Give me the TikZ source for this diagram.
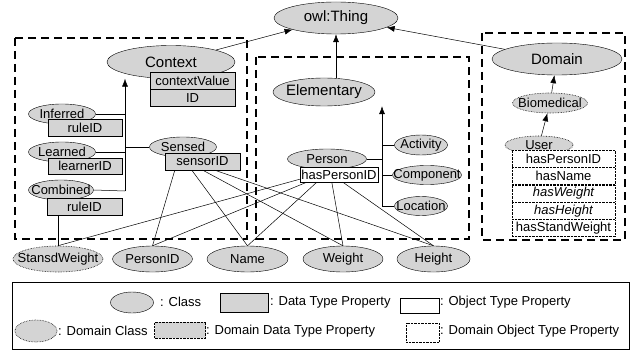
\documentclass[tikz,border=0pt]{standalone}
\usepackage{fontspec}
\setmainfont{Liberation Sans}
\usetikzlibrary{positioning,shapes.geometric,arrows.meta}
\definecolor{stipple}{gray}{0.83}

\begin{document}
\begin{tikzpicture}[x=1pt, y=-1pt,
    every node/.style={font=\fontsize{13}{15}\selectfont, inner sep=0pt},
    cls/.style={ellipse, draw, fill=stipple, inner xsep=-14pt, inner ysep=-6pt},
    bigcls/.style={cls, font=\fontsize{15}{17}\selectfont},
    dcls/.style={cls, densely dotted, line width=0.6pt},
    dprop/.style={rectangle, draw, fill=stipple, minimum height=17pt},
    oprop/.style={rectangle, draw, fill=white, minimum height=15pt},
    doprop/.style={rectangle, draw, densely dotted, fill=white, minimum width=103pt, minimum height=17pt},
    region/.style={draw, line width=1.6pt, dash pattern=on 8pt off 5pt},
    link/.style={line width=0.5pt},
    isa/.style={link, -{Latex[length=8pt, width=6pt]}}]
    \useasboundingbox (0,0) rectangle (634,350);

    \node[bigcls, minimum width=124pt, minimum height=32pt] (thing) at (336,18) {owl:Thing};

    % Context part
    \draw[region] (15,38) rectangle (247,239);
    \node[bigcls, minimum width=128pt, minimum height=33pt] (context) at (171,62) {Context};
    \node[dprop, minimum width=85pt] (ctxvalue) at (192.5,80.5) {contextValue};
    \node[dprop, minimum width=85pt, below=0pt of ctxvalue] (ctxid) {ID};
    \node[cls, minimum width=67pt, minimum height=20pt] (inferred) at (62,114) {Inferred};
    \node[dprop, minimum width=74pt] (infrule) at (85,127.5) {ruleID};
    \node[cls, minimum width=67pt, minimum height=20pt] (learned) at (62,152) {Learned};
    \node[dprop, minimum width=74pt, minimum height=16pt] (learnerid) at (85,166) {learnerID};
    \node[cls, minimum width=65pt, minimum height=20pt] (combined) at (61,190) {Combined};
    \node[dprop, minimum width=75pt] (combrule) at (84.5,206.5) {ruleID};
    \node[cls, minimum width=67pt, minimum height=20pt] (sensed) at (183,147) {Sensed};
    \node[dprop, minimum width=75pt] (sensorid) at (202.5,161.5) {sensorID};

    \coordinate (ctxbar) at (125,191);
    \draw[isa] (ctxbar) -- (ctxbar |- context.south);
    \draw[link] (inferred.east) -- (inferred.east -| ctxbar);
    \draw[link] (learned.east) -- (learned.east -| ctxbar);
    \draw[link] (combined.east) -- (ctxbar);
    \draw[link] (sensed.west) -- (sensed.west -| ctxbar);

    % Elementary part
    \draw[region] (256,57) rectangle (469,239);
    \node[bigcls, minimum width=102pt, minimum height=28pt] (elementary) at (324,92) {Elementary};
    \node[cls, minimum width=53pt, minimum height=20pt] (activity) at (421,145) {Activity};
    \node[cls, minimum width=69pt, minimum height=19pt] (component) at (427,175) {Component};
    \node[cls, minimum width=53pt, minimum height=19pt] (location) at (421,206) {Location};
    \node[cls, minimum width=79pt, minimum height=20pt] (person) at (327,159) {Person};
    \node[oprop, minimum width=78pt] (haspid) at (339,174.5) {hasPersonID};

    \coordinate (elbar) at (382,206);
    \draw[isa] (elbar) -- (elbar |- elementary.south);
    \draw[link] (activity.west) -- (activity.west -| elbar);
    \draw[link] (component.west) -- (component.west -| elbar);
    \draw[link] (location.west) -- (elbar);
    \draw[link] (person.east) -- (person.east -| elbar);

    % Domain part
    \draw[region] (482,33) rectangle (625,240);
    \node[bigcls, minimum width=130pt, minimum height=32pt] (domain) at (557,59) {Domain};
    \node[dcls, minimum width=75pt, minimum height=20pt] (biomedical) at (550,103) {Biomedical};
    \node[dcls, minimum width=68pt, minimum height=18pt] (user) at (539,145) {User};
    \node[doprop] (dpid) at (563.5,158.5) {hasPersonID};
    \node[doprop, below=0pt of dpid] (dname) {hasName};
    \node[doprop, below=0pt of dname] (dweight) {\itshape hasWeight};
    \node[doprop, below=0pt of dweight] (dheight) {\itshape hasHeight};
    \node[doprop, below=0pt of dheight] (dstand) {hasStandWeight};
    \draw[isa] (biomedical) -- (domain);
    \draw[isa] (user) -- (biomedical);

    % Subclass of owl:Thing
    \draw[isa] (context) -- (thing);
    \draw[isa] (elementary.north -| thing.south) -- (thing.south);
    \draw[isa] (domain) -- (thing);

    % Shared data values
    \node[dcls, minimum width=90pt, minimum height=26pt] (standw) at (58,259) {StansdWeight};
    \node[cls, minimum width=80pt, minimum height=26pt] (personid) at (152.5,259) {PersonID};
    \node[cls, minimum width=81pt, minimum height=26pt] (name) at (247.5,259) {Name};
    \node[cls, minimum width=80pt, minimum height=26pt] (weight) at (343,259) {Weight};
    \node[cls, minimum width=73pt, minimum height=26pt] (height) at (433.5,259) {Height};

    \draw[link] (combrule.south -| standw.north) -- (standw.north);
    \draw[link] ([xshift=10pt]sensorid.south west) -- (personid.north);
    \draw[link] ([xshift=27pt]sensorid.south west) -- (name.north);
    \draw[link] ([xshift=38pt]sensorid.south west) -- (weight.north);
    \draw[link] ([xshift=50pt]sensorid.south west) -- (height.north);
    \draw[link] ([yshift=3pt]haspid.south west) -- (standw.north);
    \draw[link] ([xshift=7pt]haspid.south west) -- (personid.north);
    \draw[link] ([xshift=17pt]haspid.south west) -- (name.north);
    \draw[link] ([xshift=32pt]haspid.south west) -- (weight.north);
    \draw[link] ([xshift=43pt]haspid.south west) -- (height.north);

    % Legend
    \draw[link] (12,282) rectangle (629,349);
    \node[cls, minimum width=43pt, minimum height=21pt] (lgcls) at (132,302.5) {};
    \node[anchor=west] (lgclstxt) at (160,302) {: Class};
    \node[dprop, minimum width=48pt, minimum height=19pt] (lgdata) at (244,302.5) {};
    \node[anchor=west] (lgdatatxt) at (270,302) {: Data Type Property};
    \node[oprop, minimum width=39pt, minimum height=15pt] (lgobj) at (419.5,305.5) {};
    \node[anchor=west] (lgobjtxt) at (440,302) {: Object Type Property};
    \node[dcls, minimum width=42pt, minimum height=22pt] (lgdcls) at (36,331) {};
    \node[anchor=west] (lgdclstxt) at (58,331) {: Domain Class};
    \node[dprop, densely dotted, minimum width=51pt, minimum height=16pt] (lgddata) at (180,330) {};
    \node[anchor=west] (lgddatatxt) at (206,331) {: Domain Data Type Property};
    \node[doprop, minimum width=33pt, minimum height=19pt] (lgdobj) at (422.5,332.5) {};
    \node[anchor=west] (lgdobjtxt) at (440,331) {: Domain Object Type Property};
\end{tikzpicture}
\end{document}
